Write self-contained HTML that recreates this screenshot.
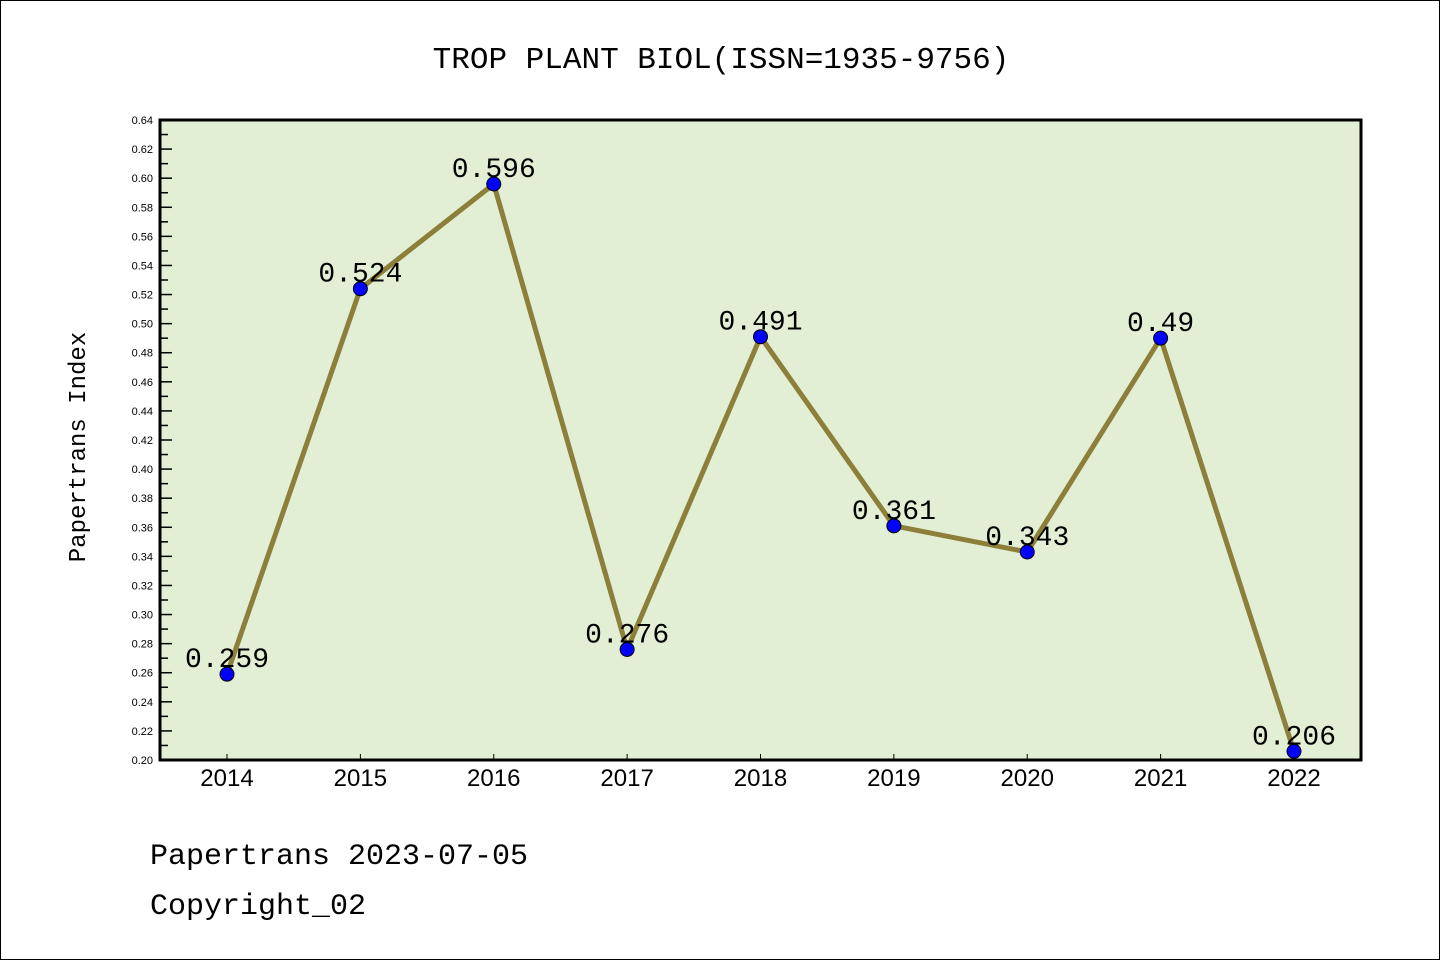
<!DOCTYPE html>
<html><head><meta charset="utf-8"><style>
html,body{margin:0;padding:0;background:#fff}
#wrap{position:relative;width:1438px;height:958px;border:1px solid #000;overflow:hidden}
</style></head><body>
<div id="wrap">
<svg id="chart" width="1438" height="958" xmlns="http://www.w3.org/2000/svg"></svg>
</div>
<script>
const years = ["2014","2015","2016","2017","2018","2019","2020","2021","2022"];
const values = [0.259,0.524,0.596,0.276,0.491,0.361,0.343,0.49,0.206];
const valueLabels = ["0.259","0.524","0.596","0.276","0.491","0.361","0.343","0.49","0.206"];
const yTicks = [0.20,0.22,0.24,0.26,0.28,0.30,0.32,0.34,0.36,0.38,0.40,0.42,0.44,0.46,0.48,0.50,0.52,0.54,0.56,0.58,0.60,0.62,0.64];

const svg = document.getElementById('chart');
const NS = 'http://www.w3.org/2000/svg';
const L=159, R=1360, T=119, B=759;
const yMin=0.20, yMax=0.64;
const x0=226, dx=(1293-226)/8;
function xs(i){return x0+i*dx;}
function ys(v){return B-(v-yMin)/(yMax-yMin)*(B-T);}
function mk(tag, attrs, parent){const e=document.createElementNS(NS,tag);for(const k in attrs)e.setAttribute(k,attrs[k]);(parent||svg).appendChild(e);return e;}

const bg = mk('rect',{x:L,y:T,width:R-L,height:B-T,fill:'#e2efd4'});



const title = mk('text',{x:720,y:67,'text-anchor':'middle','font-family':'Liberation Mono, monospace','font-size':'31',fill:'#000'});
title.textContent='TROP PLANT BIOL(ISSN=1935-9756)';



const yt = mk('text',{x:0,y:0,transform:'translate(84,446) rotate(-90)','text-anchor':'middle','font-family':'Liberation Mono, monospace','font-size':'24',fill:'#000'});
yt.textContent='Papertrans Index';



yTicks.forEach((v,i)=>{
  const y=ys(v);
  const tk=mk('line',{x1:L,x2:L+12,y1:y,y2:y,stroke:'#000','stroke-width':1.5});
  
  
  const lb=mk('text',{x:L-7,y:y+4,'text-anchor':'end','font-family':'Liberation Sans, sans-serif','font-size':'11',fill:'#000'});
  lb.textContent=v.toFixed(2);
  
  
  if(i<yTicks.length-1){
    const ym=ys(v+0.01);
    const mt=mk('line',{x1:L,x2:L+8,y1:ym,y2:ym,stroke:'#000','stroke-width':1.5});
    
    
  }
});

years.forEach((yr,i)=>{
  const x=xs(i);
  const tk=mk('line',{x1:x,x2:x,y1:B,y2:B-6,stroke:'#000','stroke-width':1});
  
  
  const lb=mk('text',{x:x,y:785,'text-anchor':'middle','font-family':'Liberation Sans, sans-serif','font-size':'24',fill:'#000'});
  lb.textContent=yr;
  
  
});

const frame = mk('rect',{x:L,y:T,width:R-L,height:B-T,fill:'none',stroke:'#000','stroke-width':3});



const line = mk('polyline',{points:values.map((v,i)=>xs(i)+','+ys(v)).join(' '),fill:'none',stroke:'#8c7f3a','stroke-width':5,'stroke-linejoin':'round'});



values.forEach((v,i)=>{
  const c=mk('circle',{cx:xs(i),cy:ys(v),r:7,fill:'#0000ff',stroke:'#000','stroke-width':1});
  
  
  const t=mk('text',{x:xs(i),y:ys(v)-7,'text-anchor':'middle','font-family':'Liberation Mono, monospace','font-size':'28',fill:'#000'});
  t.textContent=valueLabels[i];
  
  
});

const f1=mk('text',{x:149,y:863,'font-family':'Liberation Mono, monospace','font-size':'30',fill:'#000'});
f1.textContent='Papertrans 2023-07-05';


const f2=mk('text',{x:149,y:913,'font-family':'Liberation Mono, monospace','font-size':'30',fill:'#000'});
f2.textContent='Copyright_02';


</script>
</body></html>
